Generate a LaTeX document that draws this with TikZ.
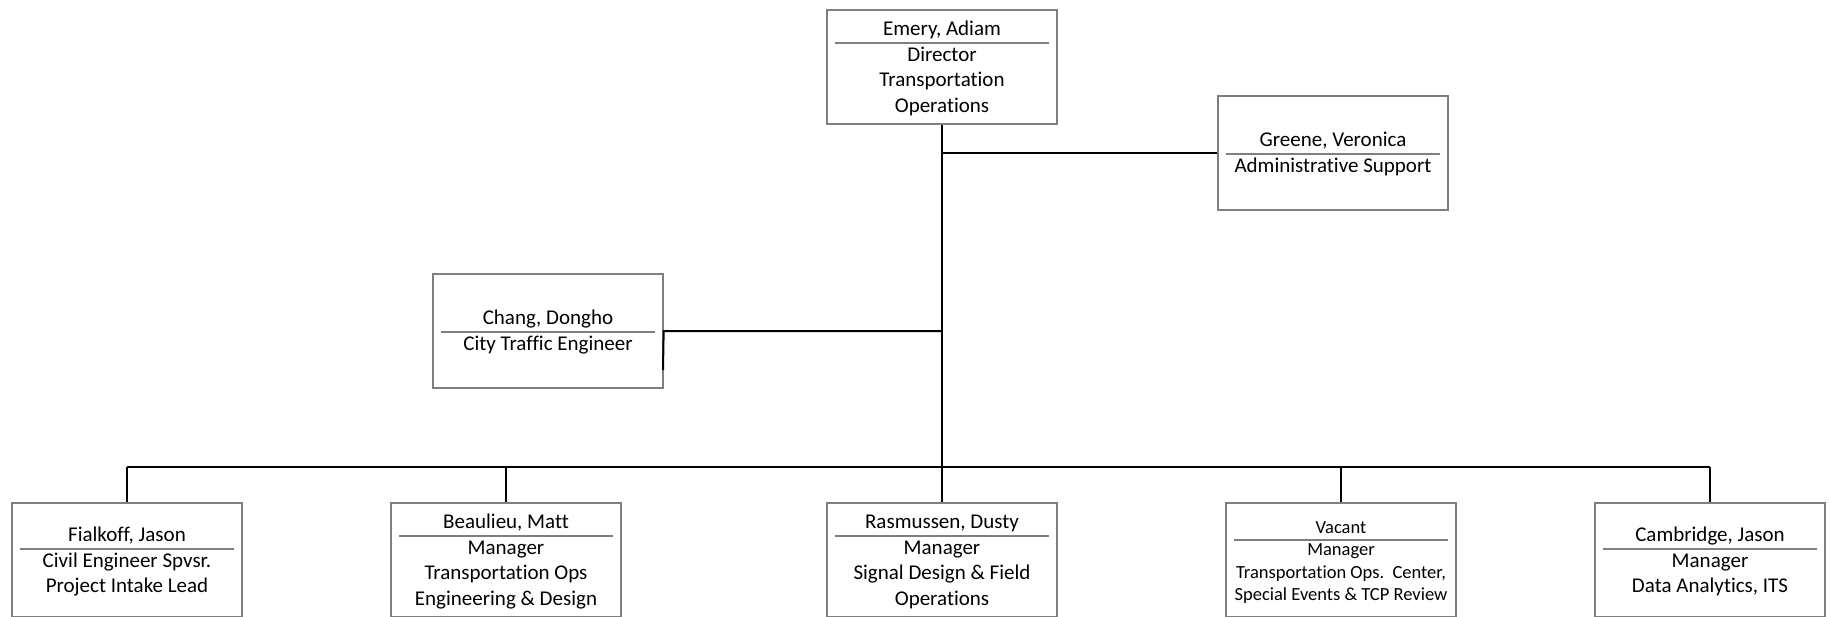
\documentclass[tikz,border=0pt]{standalone}
\usepackage{fontspec}
\setmainfont{Carlito}[Ligatures=NoCommon]
\definecolor{boxgray}{HTML}{7F7F7F}
\newcommand\bigtxt{\fontsize{21}{25.5}\selectfont}
\newcommand\smalltxt{\fontsize{18.5}{22.5}\selectfont}
\tikzset{
 orgbox/.style={draw=boxgray, line width=1.3pt, minimum width=230pt, minimum height=114pt, inner sep=0pt},
 ttl/.style={anchor=south, inner sep=0pt, align=center, font=\bigtxt},
 bdy/.style={anchor=north, inner sep=0pt, align=center, font=\bigtxt},
 sepline/.style={draw=boxgray, line width=1.3pt},
 conn/.style={draw=black, line width=2pt}
}
\begin{document}
\begin{tikzpicture}[x=1pt,y=-1pt]
\useasboundingbox (0,0) rectangle (1829,616);
\clip (0,0) rectangle (1829,616);
% boxes
\node[orgbox] (emery) at (942,67) {};
\node[orgbox] (greene) at (1333,153) {};
\node[orgbox] (chang) at (548,331) {};
\node[orgbox] (fial) at (127,560) {};
\node[orgbox] (beau) at (506,560) {};
\node[orgbox] (rasm) at (942,560) {};
\node[orgbox] (vac) at (1341,560) {};
\node[orgbox] (camb) at (1710,560) {};
% split coordinates
\coordinate (emeryS) at (942,43);
\coordinate (greeneS) at (1333,154);
\coordinate (changS) at (548,332);
\coordinate (fialS) at (127,549);
\coordinate (beauS) at (506,536);
\coordinate (rasmS) at (942,536);
\coordinate (vacS) at (1341,540);
\coordinate (cambS) at (1710,549);
% texts
\node[ttl] (emeryT) at (emeryS) {\strut Emery, Adiam};
\node[bdy] (emeryB) at (emeryS) {\strut Director\\\strut Transportation\\\strut Operations};
\node[ttl] (greeneT) at (greeneS) {\strut Greene, Veronica};
\node[bdy] (greeneB) at (greeneS) {\strut Administrative Support};
\node[ttl] (changT) at (changS) {\strut Chang, Dongho};
\node[bdy] (changB) at (changS) {\strut City Traffic Engineer};
\node[ttl] (fialT) at (fialS) {\strut Fialkoff, Jason};
\node[bdy] (fialB) at (fialS) {\strut Civil Engineer Spvsr.\\\strut Project Intake Lead};
\node[ttl] (beauT) at (beauS) {\strut Beaulieu, Matt};
\node[bdy] (beauB) at (beauS) {\strut Manager\\\strut Transportation Ops\\\strut Engineering \& Design};
\node[ttl] (rasmT) at (rasmS) {\strut Rasmussen, Dusty};
\node[bdy] (rasmB) at (rasmS) {\strut Manager\\\strut Signal Design \& Field\\\strut Operations};
\node[ttl, font=\smalltxt] (vacT) at (vacS) {\strut Vacant};
\node[bdy, font=\smalltxt] (vacB) at (vacS) {\strut Manager\\\strut Transportation Ops.\ \ Center,\\\strut Special Events \& TCP Review};
\node[ttl] (cambT) at (cambS) {\strut Cambridge, Jason};
\node[bdy] (cambB) at (cambS) {\strut Manager\\\strut Data Analytics, ITS};
% separators
\foreach \b in {emery,greene,chang,fial,beau,rasm,vac,camb}{
  \draw[sepline] ([xshift=9pt]\b.west |- \b S) -- ([xshift=-9pt]\b.east |- \b S);
}
% connectors
\coordinate (bus) at (942,467);
\coordinate (changTail) at (663,370);
\draw[conn] (emery.south) -- (emery.south |- bus);
\draw[conn] (greene.west) -- (greene.west -| emery.south);
\draw[conn] (chang.east -| emery.south) -- (chang.east) -- (changTail);
\draw[conn] (fial.north |- bus) -- (camb.north |- bus);
\foreach \b in {fial,beau,rasm,vac,camb}{
  \draw[conn] (\b.north |- bus) -- (\b.north);
}
\end{tikzpicture}
\end{document}
